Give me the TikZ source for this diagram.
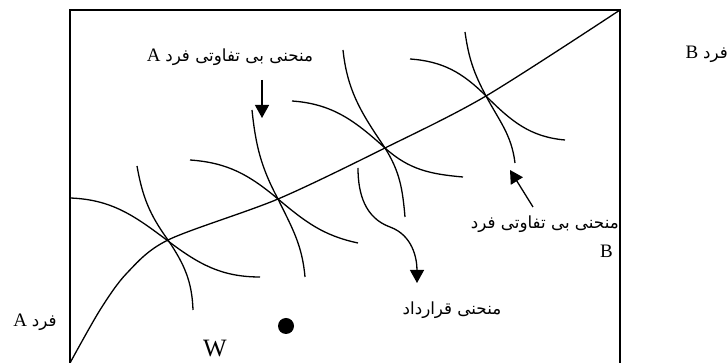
\documentclass[tikz,border=0pt]{standalone}
\usepackage{fontspec}
\setmainfont{Liberation Serif}
\newfontfamily\farsi[Script=Arabic,Scale=0.88]{DejaVu Sans}
\TeXXeTstate=1
\usetikzlibrary{arrows.meta}

\begin{document}
\begin{tikzpicture}[
    x=1pt,y=1pt,
    frame/.style   = {line width=1.4pt},
    curva/.style   = {line width=1.3pt},
    pointer/.style = {line width=1.3pt, -{Triangle[length=13pt,width=14pt]}},
    lbl/.style     = {font=\fontsize{19}{22}\selectfont, inner sep=0pt},
  ]
  \useasboundingbox (0,0) rectangle (728,363);

  % Edgeworth box
  \draw[frame] (70,0) -- (70,353) -- (620,353) -- (620,0);

  % contract curve
  \draw[curva] plot[smooth] coordinates {(70,0) (100,53) (127,90) (168,123)
      (278,164) (385,215) (486,267) (620,353)};

  % indifference curves, flat family
  \draw[curva] (70,165) to[out=-2,in=143] (168,122) to[out=-37,in=180] (260,86);
  \draw[curva] (190,203) to[out=-4,in=140] (278,164) to[out=-40,in=168] (358,120);
  \draw[curva] (292,262) to[out=-4,in=138] (385,215) to[out=-42,in=175] (463,186);
  \draw[curva] (410,304) to[out=-4,in=135] (486,267) to[out=-45,in=175] (565,223);

  % indifference curves, steep family
  \draw[curva] (137,197) to[out=-80,in=126] (168,123) to[out=-56,in=92] (193,53);
  \draw[curva] (252,253) to[out=-84,in=118] (278,164) to[out=-64,in=95] (305,86);
  \draw[curva] (343,313) to[out=-84,in=124] (385,215) to[out=-58,in=95] (405,146);
  \draw[curva] (465,331) to[out=-82,in=118] (486,267) to[out=-62,in=97] (515,200);

  % labels
  \node[lbl] (labA) at (230,306)
       {\beginR{\farsi منحنی بی تفاوتی فرد} A\endR};
  \node[lbl,anchor=east] (ownB) at (728,309) {\beginR{\farsi فرد} B\endR};
  \node[lbl] (ownA) at (35,41) {\beginR{\farsi فرد} A\endR};
  \node[lbl,align=right,anchor=north east] (labB) at (619,147)
       {\beginR{\farsi منحنی بی تفاوتی فرد}\endR\\[7pt] B\hspace*{6pt}};
  \node[lbl] (labC) at (452,53) {\beginR{\farsi منحنی قرارداد}\endR};
  \node[lbl,font=\fontsize{25}{27}\selectfont] (w) at (215,14) {W};
  \fill (286,37) circle (8) coordinate (dot);

  % pointers
  \coordinate (fromA) at (262,283);
  \coordinate (toA)   at (262,245);
  \coordinate (fromB) at (533,156);
  \coordinate (toB)   at (510,193);
  \coordinate (fromC) at (358,195);
  \coordinate (midC)  at (390,136);
  \coordinate (toC)   at (417,80);
  \draw[pointer] (fromA) -- (toA);
  \draw[pointer] (fromB) -- (toB);
  \draw[pointer] (fromC) to[out=-90,in=160] (midC) to[out=-20,in=90] (toC);

\end{tikzpicture}
\end{document}
